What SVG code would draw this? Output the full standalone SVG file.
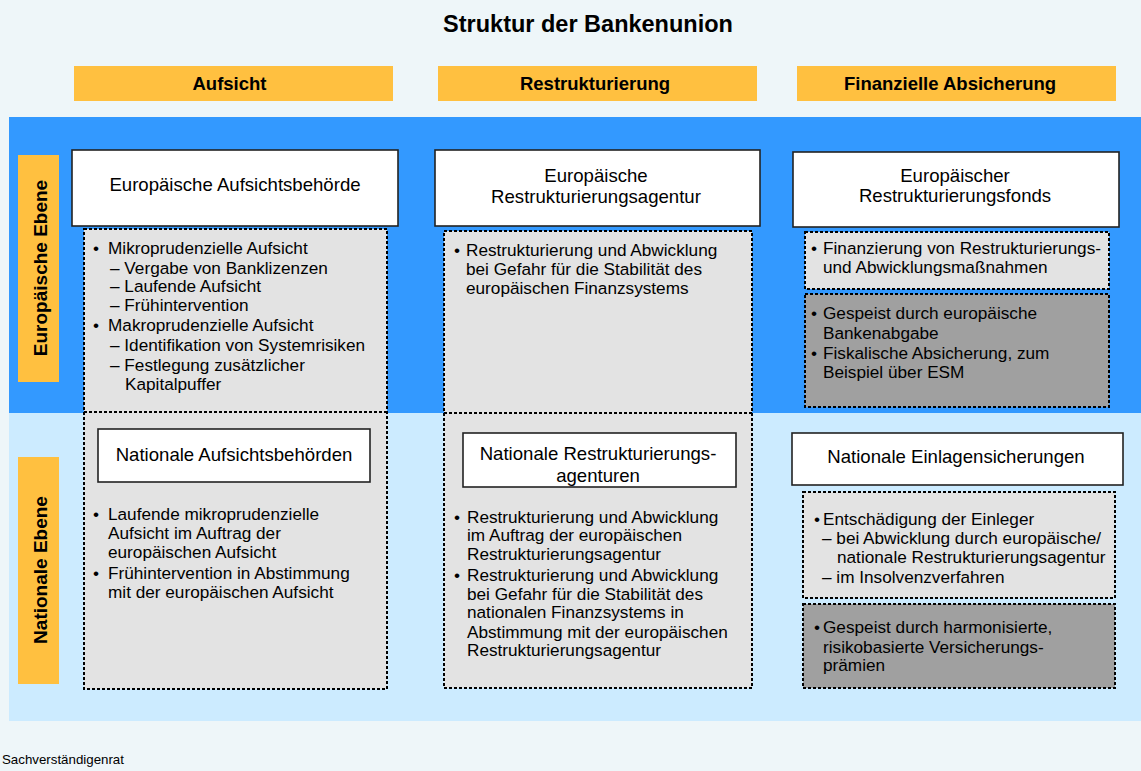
<svg xmlns="http://www.w3.org/2000/svg" width="1141" height="771" viewBox="0 0 1141 771">
<style>
text{font-family:"Liberation Sans",Arial,sans-serif;fill:#000}
.t{font-size:17.2px}
.n{font-size:18.6px}
.b{font-size:18.5px;font-weight:bold}
.s{font-size:19px;font-weight:bold}
.hdr{fill:#FFC040}
.wb{fill:#fff;stroke:#222;stroke-width:1.6}
.dl{fill:#E3E3E3;stroke:#000;stroke-width:2;stroke-dasharray:3 2}
.dd{fill:#A0A0A0;stroke:#000;stroke-width:2;stroke-dasharray:3 2}
.dln{fill:none;stroke:#000;stroke-width:2;stroke-dasharray:3 2}
.c{text-anchor:middle}
</style>
<rect width="1141" height="771" fill="#EEF6F9"/>
<rect x="9" y="117" width="1132" height="296" fill="#3399FF"/>
<rect x="9" y="413" width="1132" height="308" fill="#CCEBFF"/>
<text x="588" y="32" class="c" style="font-size:23.5px;font-weight:bold">Struktur der Bankenunion</text>

<g id="hdr-aufsicht"><rect class="hdr" x="74" y="66" width="319" height="35"/><text x="229.5" y="90" class="b c">Aufsicht</text></g>
<g id="hdr-restrukturierung"><rect class="hdr" x="438" y="66" width="319" height="35"/><text x="595" y="90" class="b c">Restrukturierung</text></g>
<g id="hdr-finanzielle"><rect class="hdr" x="797" y="66" width="319" height="35"/><text x="950" y="90" class="b c">Finanzielle Absicherung</text></g>

<g id="side-europaeisch"><rect class="hdr" x="18" y="155" width="41" height="227"/><text transform="translate(47,268) rotate(-90)" class="s c">Europäische Ebene</text></g>
<g id="side-national"><rect class="hdr" x="18" y="457" width="41" height="227"/><text transform="translate(47,570) rotate(-90)" class="s c">Nationale Ebene</text></g>

<g id="col1-detail">
<rect class="dl" x="84" y="229" width="303" height="460"/>
<line class="dln" x1="84" y1="412" x2="387" y2="412"/>
<text class="t"><tspan x="93" y="254">•</tspan><tspan x="108" y="254">Mikroprudenzielle Aufsicht</tspan><tspan x="110" y="274">– Vergabe von Banklizenzen</tspan><tspan x="110" y="292">– Laufende Aufsicht</tspan><tspan x="110" y="311">– Frühintervention</tspan><tspan x="93" y="331">•</tspan><tspan x="108" y="331">Makroprudenzielle Aufsicht</tspan><tspan x="110" y="351">– Identifikation von Systemrisiken</tspan><tspan x="110" y="371">– Festlegung zusätzlicher</tspan><tspan x="125" y="390">Kapitalpuffer</tspan></text>
<text class="t"><tspan x="93" y="520">•</tspan><tspan x="108" y="520">Laufende mikroprudenzielle</tspan><tspan x="108" y="539">Aufsicht im Auftrag der</tspan><tspan x="108" y="558">europäischen Aufsicht</tspan><tspan x="93" y="579">•</tspan><tspan x="108" y="579">Frühintervention in Abstimmung</tspan><tspan x="108" y="598">mit der europäischen Aufsicht</tspan></text>
</g>
<g id="eu-aufsicht"><rect class="wb" x="72" y="150" width="326" height="76"/><text x="235" y="191" class="n c">Europäische Aufsichtsbehörde</text></g>
<g id="nat-aufsicht"><rect class="wb" x="98" y="429" width="272" height="53"/><text x="234" y="461" class="n c">Nationale Aufsichtsbehörden</text></g>

<g id="col2-detail">
<rect class="dl" x="444" y="231" width="308" height="457"/>
<line class="dln" x1="444" y1="413" x2="752" y2="413"/>
<text class="t"><tspan x="454" y="256">•</tspan><tspan x="466" y="256">Restrukturierung und Abwicklung</tspan><tspan x="466" y="275">bei Gefahr für die Stabilität des</tspan><tspan x="466" y="294">europäischen Finanzsystems</tspan></text>
<text class="t"><tspan x="454" y="523">•</tspan><tspan x="467" y="523">Restrukturierung und Abwicklung</tspan><tspan x="467" y="541">im Auftrag der europäischen</tspan><tspan x="467" y="560">Restrukturierungsagentur</tspan><tspan x="454" y="581">•</tspan><tspan x="467" y="581">Restrukturierung und Abwicklung</tspan><tspan x="467" y="600">bei Gefahr für die Stabilität des</tspan><tspan x="467" y="618">nationalen Finanzsystems in</tspan><tspan x="467" y="638">Abstimmung mit der europäischen</tspan><tspan x="467" y="656">Restrukturierungsagentur</tspan></text>
</g>
<g id="eu-restrukturierungsagentur"><rect class="wb" x="435" y="150" width="325" height="76"/><text class="n c"><tspan x="596" y="182">Europäische</tspan><tspan x="596" y="203">Restrukturierungsagentur</tspan></text></g>
<g id="nat-restrukturierungsagenturen"><rect class="wb" x="463" y="433" width="273" height="54"/><text class="n c"><tspan x="598" y="460">Nationale Restrukturierungs-</tspan><tspan x="598" y="482">agenturen</tspan></text></g>

<g id="eu-restrukturierungsfonds"><rect class="wb" x="793" y="152" width="326" height="75"/><text class="n c"><tspan x="955" y="182">Europäischer</tspan><tspan x="955" y="202">Restrukturierungsfonds</tspan></text></g>
<g id="fonds-finanzierung"><rect class="dl" x="805" y="232" width="304" height="57"/><text class="t"><tspan x="811" y="254">•</tspan><tspan x="823" y="254">Finanzierung von Restrukturierungs-</tspan><tspan x="823" y="273">und Abwicklungsmaßnahmen</tspan></text></g>
<g id="fonds-gespeist"><rect class="dd" x="805" y="294" width="304" height="113"/><text class="t"><tspan x="811" y="319">•</tspan><tspan x="823" y="319">Gespeist durch europäische</tspan><tspan x="823" y="339">Bankenabgabe</tspan><tspan x="811" y="359">•</tspan><tspan x="823" y="359">Fiskalische Absicherung, zum</tspan><tspan x="823" y="378">Beispiel über ESM</tspan></text></g>

<g id="nat-einlagensicherungen"><rect class="wb" x="792" y="433" width="331" height="52"/><text x="956" y="463" class="n c">Nationale Einlagensicherungen</text></g>
<g id="einlagen-entschaedigung"><rect class="dl" x="803" y="492" width="312" height="106"/><text class="t"><tspan x="814" y="525">•</tspan><tspan x="823" y="525">Entschädigung der Einleger</tspan><tspan x="822" y="544">– bei Abwicklung durch europäische/</tspan><tspan x="837" y="563">nationale Restrukturierungsagentur</tspan><tspan x="822" y="583">– im Insolvenzverfahren</tspan></text></g>
<g id="einlagen-gespeist"><rect class="dd" x="803" y="604" width="312" height="84"/><text class="t"><tspan x="814" y="633">•</tspan><tspan x="823" y="633">Gespeist durch harmonisierte,</tspan><tspan x="823" y="653">risikobasierte Versicherungs-</tspan><tspan x="823" y="671">prämien</tspan></text></g>

<g id="connectors"></g>
<text x="2" y="764" style="font-size:13.3px">Sachverständigenrat</text>
</svg>
